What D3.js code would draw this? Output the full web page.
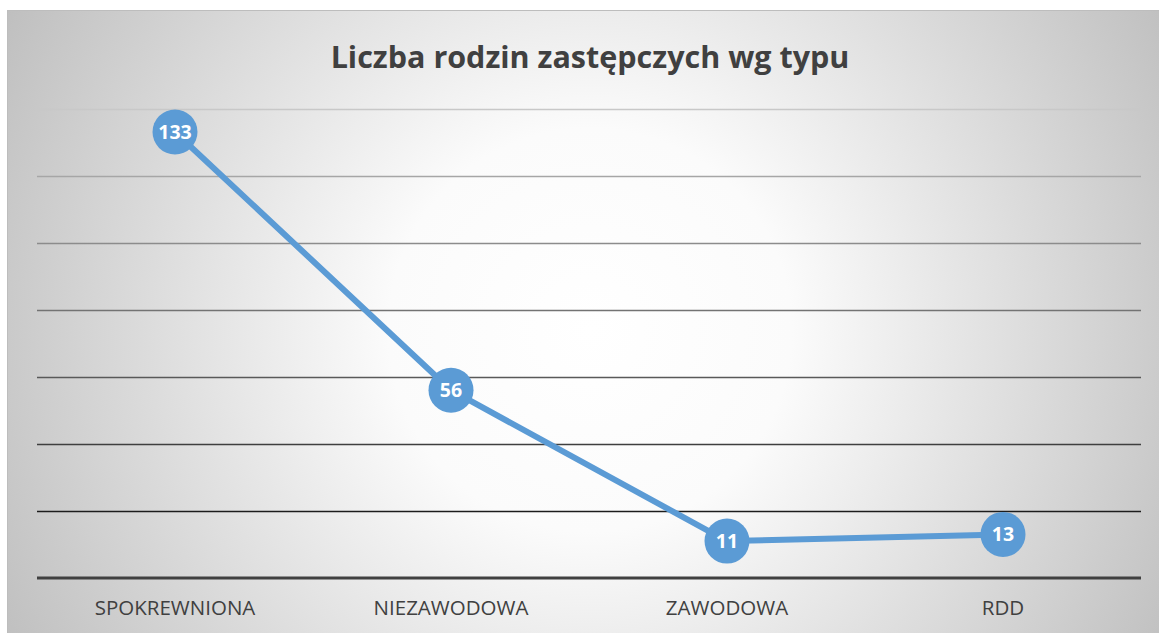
<!DOCTYPE html>
<html>
<head>
<meta charset="utf-8">
<script src="https://cdn.jsdelivr.net/npm/d3@7"></script>
<style>
  html, body { margin: 0; padding: 0; background: #ffffff; }
  svg { display: block; }
</style>
</head>
<body>
<svg id="chart" width="1159" height="633"></svg>
<script>
const categories = ["SPOKREWNIONA", "NIEZAWODOWA", "ZAWODOWA", "RDD"];
const values = [133, 56, 11, 13];
const yTicks = [20, 40, 60, 80, 100, 120, 140];
const gridColors = ["#1c1c1c", "#3f3f3f", "#595959", "#737373", "#8c8c8c", "#a6a6a6", "#c8c8c8"];
const title = "Liczba rodzin zastępczych wg typu";

(function () {
const W = 1159, H = 633;
const svg = d3.select("#chart");
const defs = svg.append("defs");
const grad = defs.append("radialGradient").attr("id", "bg")
  .attr("gradientUnits", "userSpaceOnUse")
  .attr("cx", 590).attr("cy", 330).attr("r", 720);
grad.append("stop").attr("offset", "0%").attr("stop-color", "#ffffff");
grad.append("stop").attr("offset", "28%").attr("stop-color", "#fbfbfb");
grad.append("stop").attr("offset", "100%").attr("stop-color", "#b8b8b8");

svg.append("rect").attr("x", 7).attr("y", 10).attr("width", W - 7).attr("height", H - 10)
  .attr("fill", "url(#bg)");
svg.append("line").attr("x1", 7).attr("x2", W).attr("y1", 10.5).attr("y2", 10.5)
  .attr("stroke", "#bdbdbd").attr("stroke-width", 1);
svg.append("line").attr("x1", 7.5).attr("x2", 7.5).attr("y1", 10).attr("y2", H)
  .attr("stroke", "#bdbdbd").attr("stroke-width", 1);

const mLeft = 37, mRight = 1141, mTop = 108.5, mBottom = 578;
const x = d3.scaleBand().domain(categories).range([mLeft, mRight]).padding(0);
const y = d3.scaleLinear().domain([0, 140]).range([mBottom, mTop]);

// gridlines
svg.append("g").selectAll("line").data(yTicks).join("line")
  .attr("x1", mLeft).attr("x2", mRight)
  .attr("y1", d => Math.round(y(d)) + 0.5).attr("y2", d => Math.round(y(d)) + 0.5)
  .attr("stroke", (d, i) => gridColors[i]).attr("stroke-width", 1.5);

// baseline
svg.append("line").attr("x1", mLeft).attr("x2", mRight)
  .attr("y1", y(0)).attr("y2", y(0))
  .attr("stroke", "#404040").attr("stroke-width", 3);

// category labels via axis
const xAxis = svg.append("g").attr("transform", `translate(0,${y(0)})`)
  .call(d3.axisBottom(x).tickSize(0).tickPadding(22));
xAxis.select(".domain").remove();
xAxis.selectAll("text")
  .attr("font-family", "'Open Sans', sans-serif").attr("font-size", 20.5)
  .attr("fill", "#404040");

// title
svg.append("text").attr("x", 590).attr("y", 68).attr("text-anchor", "middle")
  .attr("font-family", "'Open Sans', sans-serif").attr("font-weight", "bold")
  .attr("font-size", 30.5).attr("fill", "#404040").text(title);

const data = categories.map((c, i) => ({ c, v: values[i] }));
const cx = d => x(d.c) + x.bandwidth() / 2;

svg.append("path").datum(data)
  .attr("d", d3.line().x(cx).y(d => y(d.v)))
  .attr("fill", "none").attr("stroke", "#5b9bd5").attr("stroke-width", 6)
  .attr("stroke-linejoin", "round");

const pts = svg.append("g").selectAll("g").data(data).join("g")
  .attr("transform", d => `translate(${cx(d)},${y(d.v)})`);
pts.append("circle").attr("r", 22.5).attr("fill", "#5b9bd5");
pts.append("text").attr("text-anchor", "middle").attr("dy", "0.36em")
  .attr("font-family", "'Open Sans', sans-serif").attr("font-weight", "bold")
  .attr("font-size", 19.5).attr("fill", "#ffffff").text(d => d.v);
})();
</script>
</body>
</html>
